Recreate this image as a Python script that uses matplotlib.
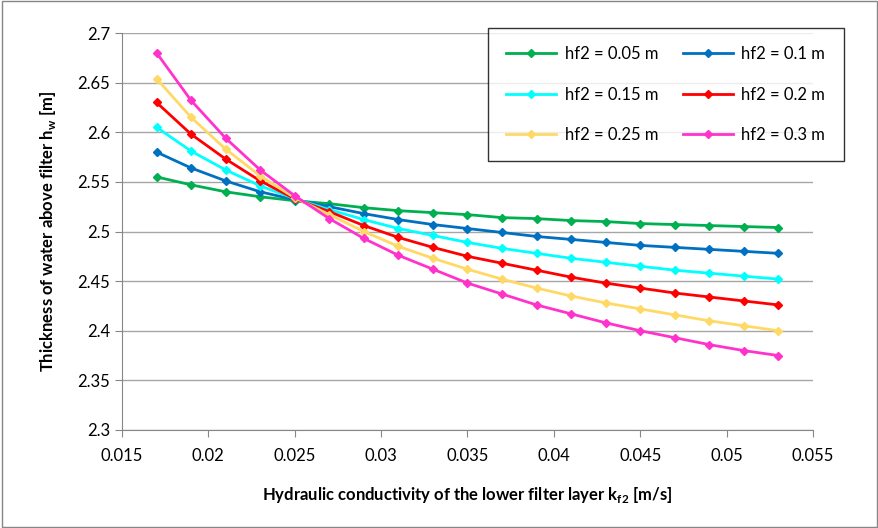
import numpy as np
import matplotlib.pyplot as plt

plt.rcParams['font.family'] = ['Lato', 'DejaVu Sans']

k_f2 = [0.017, 0.019, 0.021, 0.023, 0.025, 0.027, 0.029, 0.031, 0.033, 0.035,
        0.037, 0.039, 0.041, 0.043, 0.045, 0.047, 0.049, 0.051, 0.053]

hw_005 = [2.555, 2.547, 2.540, 2.535, 2.531, 2.528, 2.524, 2.521, 2.519, 2.517,
          2.514, 2.513, 2.511, 2.510, 2.508, 2.507, 2.506, 2.505, 2.504]
hw_010 = [2.580, 2.564, 2.551, 2.540, 2.532, 2.525, 2.518, 2.512, 2.507, 2.503,
          2.499, 2.495, 2.492, 2.489, 2.486, 2.484, 2.482, 2.480, 2.478]
hw_015 = [2.605, 2.581, 2.562, 2.546, 2.533, 2.522, 2.512, 2.503, 2.496, 2.489,
          2.483, 2.478, 2.473, 2.469, 2.465, 2.461, 2.458, 2.455, 2.452]
hw_020 = [2.630, 2.598, 2.573, 2.551, 2.533, 2.520, 2.506, 2.494, 2.484, 2.475,
          2.468, 2.461, 2.454, 2.448, 2.443, 2.438, 2.434, 2.430, 2.426]
hw_025 = [2.654, 2.615, 2.583, 2.556, 2.534, 2.517, 2.500, 2.485, 2.473, 2.462,
          2.452, 2.443, 2.435, 2.428, 2.422, 2.416, 2.410, 2.405, 2.400]
hw_030 = [2.680, 2.632, 2.594, 2.562, 2.536, 2.513, 2.493, 2.476, 2.462, 2.448,
          2.437, 2.426, 2.417, 2.408, 2.400, 2.393, 2.386, 2.380, 2.375]

series = [hw_005, hw_010, hw_015, hw_020, hw_025, hw_030]
labels = ['hf2 = 0.05 m', 'hf2 = 0.1 m', 'hf2 = 0.15 m',
          'hf2 = 0.2 m', 'hf2 = 0.25 m', 'hf2 = 0.3 m']
colors = ['#00B050', '#0070C0', '#00FFFF', '#FF0000', '#FFD966', '#FF33CC']

fig = plt.figure(figsize=(8.79, 5.28), dpi=100)
ax = fig.add_axes([122/879, 1 - 430/528, (813-122)/879, (430-33)/528])

lines = []
for y, lab, c in zip(series, labels, colors):
    ln, = ax.plot(k_f2, y, color=c, lw=2, marker='D', ms=4.5, label=lab)
    lines.append(ln)

ax.set_xlim(0.015, 0.055)
ax.set_ylim(2.3, 2.7)
ax.set_xticks(np.arange(0.015, 0.0551, 0.005))
ax.set_xticklabels(['0.015', '0.02', '0.025', '0.03', '0.035', '0.04',
                    '0.045', '0.05', '0.055'])
ax.set_yticks(np.arange(2.3, 2.701, 0.05))
ax.set_yticklabels(['2.3', '2.35', '2.4', '2.45', '2.5', '2.55', '2.6', '2.65', '2.7'])
ax.yaxis.grid(True, color='#A6A6A6', lw=1)
ax.set_axisbelow(True)
for s in ['top', 'right']:
    ax.spines[s].set_visible(False)
for s in ['left', 'bottom']:
    ax.spines[s].set_color('#868686')
ax.tick_params(axis='both', colors='#868686', labelcolor='black',
               labelsize=12, length=5, direction='out')
ax.tick_params(axis='x', pad=8)

ax.set_xlabel(r'Hydraulic conductivity of the lower filter layer k$_{\mathregular{f2}}$ [m/s]',
              fontsize=12, fontweight='bold', labelpad=15)
ax.set_ylabel(r'Thickness of water above filter h$_{\mathregular{w}}$ [m]',
              fontsize=12, fontweight='bold', labelpad=14)

# row-wise legend order (matplotlib fills columns first)
order = [0, 2, 4, 1, 3, 5]
leg = fig.legend([lines[i] for i in order], [labels[i] for i in order],
                 loc='upper left', bbox_to_anchor=(488/879, 1 - 28/528), ncol=2,
                 fontsize=12, frameon=True, fancybox=False, edgecolor='black',
                 borderaxespad=0, borderpad=1.1, labelspacing=1.45, columnspacing=1.5,
                 handlelength=3.0, handletextpad=0.5, markerscale=0.8)
leg.get_frame().set_linewidth(1)

fig.patches.append(plt.Rectangle((0.002, 0.002), 0.996, 0.996, transform=fig.transFigure,
                                 fill=False, edgecolor='#868686', lw=1))

fig.savefig('out.png', dpi=100)
